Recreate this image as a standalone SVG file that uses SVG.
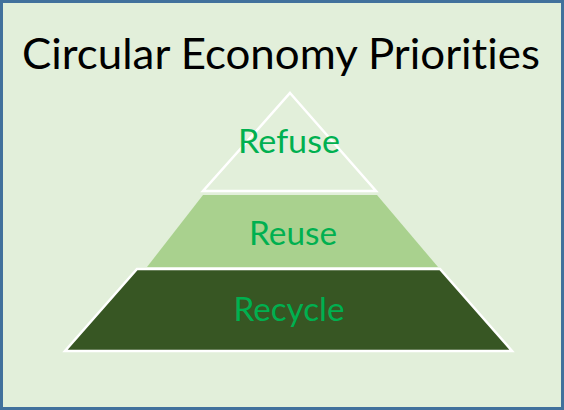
<svg xmlns="http://www.w3.org/2000/svg" width="564" height="410" viewBox="0 0 564 410">
<style>
text{font-variant-ligatures:none;font-feature-settings:"liga" 0}
.lbl{font-family:Lato,"Open Sans",sans-serif;font-size:32px;fill:#00B050;text-anchor:middle}
.title{font-family:Lato,"Open Sans",sans-serif;font-size:43px;fill:#000;text-anchor:middle}
</style>
<rect x="1.5" y="1.5" width="561" height="407" fill="#E2EFDA" stroke="#41719C" stroke-width="3"/>
<text class="title" x="281" y="69" textLength="518" lengthAdjust="spacingAndGlyphs">Circular Economy Priorities</text>
<g id="recycle">
<polygon points="137,269 440,269 512,351 65,351" fill="#375623" stroke="#FFFFFF" stroke-width="2.5"/>
<text class="lbl" x="289" y="321" textLength="111" lengthAdjust="spacingAndGlyphs">Recycle</text>
</g>
<g id="reuse">
<polygon points="203,195 377,195 438,267 147,267" fill="#A9D18E"/>
<text class="lbl" x="293" y="245" textLength="88" lengthAdjust="spacingAndGlyphs">Reuse</text>
</g>
<g id="refuse">
<polygon points="290,93 376,191 203,191" fill="none" stroke="#FFFFFF" stroke-width="2.5"/>
<text class="lbl" x="289" y="153" textLength="102" lengthAdjust="spacingAndGlyphs">Refuse</text>
</g>
</svg>
